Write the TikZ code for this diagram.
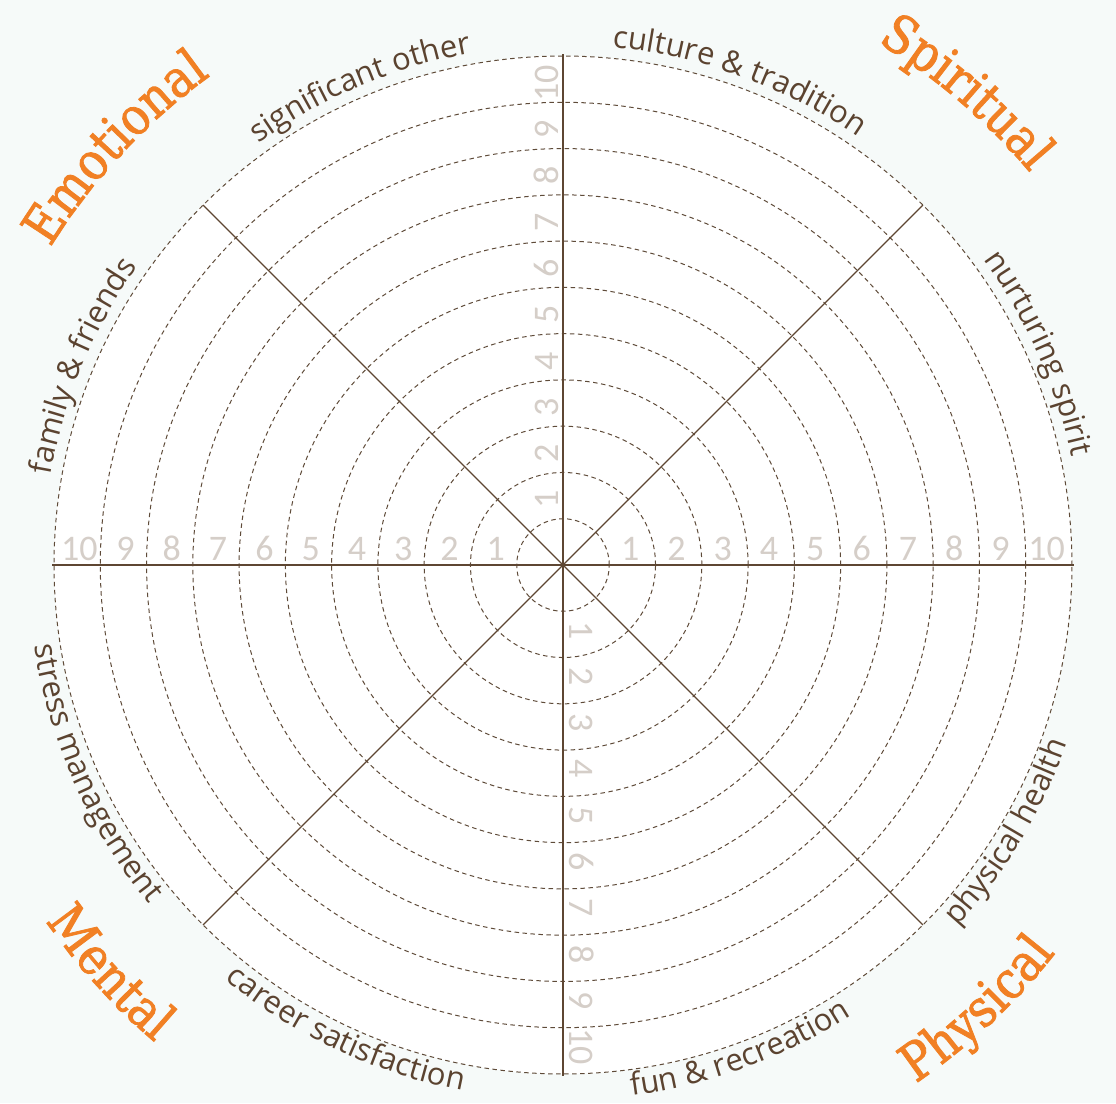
\documentclass[tikz,border=0pt]{standalone}
\usepackage{fontspec}
\setmainfont{Open Sans}
\newfontfamily\digitfont{Carlito}
\newfontfamily\headfont[FakeStretch=0.88, FakeBold=1.6]{DejaVu Serif}
\usetikzlibrary{decorations.text}

\definecolor{bark}{HTML}{5B4330}
\definecolor{spokeclr}{HTML}{5E4632}
\definecolor{ringclr}{HTML}{5F4B39}
\definecolor{numclr}{HTML}{D5CEC8}
\definecolor{tangerine}{HTML}{F18024}
\definecolor{mist}{HTML}{F6FAF9}

\newcommand{\areafont}{\fontsize{31}{31}\selectfont}
\newcommand{\groupfont}{\headfont\fontsize{52}{52}\selectfont}

\tikzset{
  ring/.style={draw=ringclr, line width=1pt, dash pattern=on 4.5pt off 3.5pt},
  axis/.style={draw=spokeclr, line width=2.2pt},
  spoke/.style={draw=spokeclr, line width=1.1pt},
  num/.style={font=\digitfont\fontsize{36}{36}\selectfont, text=numclr, inner sep=0pt, anchor=base}
}

\begin{document}
\begin{tikzpicture}[x=1pt, y=1pt]
  % page and wheel face
  \useasboundingbox (-563,-538) rectangle (553,565);
  \fill[mist] (-563,-538) rectangle (553,565);
  \coordinate (hub) at (0,0);
  \fill[white] (hub) circle (509);

  % score rings
  \foreach \k in {1,...,11}
    \draw[ring] (hub) circle ({46.27*\k});

  % spokes
  \foreach \a in {45,135,225,315} {
    \coordinate (rim-\a) at (\a:509);
    \draw[spoke] (hub) -- (rim-\a);
  }
  \foreach \a in {0,90,180,270} {
    \coordinate (rim-\a) at (\a:511);
    \draw[axis] (hub) -- (rim-\a);
  }

  % scale numbers
  \foreach \k in {1,...,10} {
    \node[num] (east-\k) at ({46.27*\k+21}, 5) {\k};
    \node[num] (west-\k) at ({-46.27*\k-21}, 5) {\k};
    \node[num, rotate=90] (north-\k) at (-5, {46.27*\k+19}) {\k};
    \node[num, rotate=-90] (south-\k) at (6, {-46.27*\k-19}) {\k};
  }

  % life areas, upper half read clockwise
  \path[decorate, decoration={text along path, text align=center, text color=bark,
      text={|\areafont|family {\&} friends}}]
    (197.5:520) arc[start angle=197.5, end angle=117.5, radius=520];
  \path[decorate, decoration={text along path, text align=center, text color=bark,
      text={|\areafont|significant other}}]
    (153:520) arc[start angle=153, end angle=73, radius=520];
  \path[decorate, decoration={text along path, text align=center, text color=bark,
      text={|\areafont|culture {\&} tradition}}]
    (110:520) arc[start angle=110, end angle=30, radius=520];
  \path[decorate, decoration={text along path, text align=center, text color=bark,
      text={|\areafont|nurturing spirit}}]
    (64:520) arc[start angle=64, end angle=-16, radius=520];

  % life areas, lower half read counterclockwise
  \path[decorate, decoration={text along path, text align=center, text color=bark,
      text={|\areafont|physical health}}]
    (-71:535) arc[start angle=-71, end angle=9, radius=535];
  \path[decorate, decoration={text along path, text align=center, text color=bark,
      text={|\areafont|fun {\&} recreation}}]
    (-110:535) arc[start angle=-110, end angle=-30, radius=535];
  \path[decorate, decoration={text along path, text align=center, text color=bark,
      text={|\areafont|career satisfaction}}]
    (-155:535) arc[start angle=-155, end angle=-75, radius=535];
  \path[decorate, decoration={text along path, text align=center, text color=bark,
      text={|\areafont|stress management}}]
    (164:535) arc[start angle=164, end angle=244, radius=535];

  % groups
  \path[decorate, decoration={text along path, text align=center, text color=tangerine,
      text={|\groupfont|Emotional}}]
    (177:603) arc[start angle=177, end angle=97, radius=603];
  \path[decorate, decoration={text along path, text align=center, text color=tangerine,
      text={|\groupfont|Spiritual}}]
    (89.5:610) arc[start angle=89.5, end angle=9.5, radius=610];
  \path[decorate, decoration={text along path, text align=center, text color=tangerine,
      text={|\groupfont|Mental}}]
    (182:628) arc[start angle=182, end angle=262, radius=628];
  \path[decorate, decoration={text along path, text align=center, text color=tangerine,
      text={|\groupfont|Physical}}]
    (-87:627) arc[start angle=-87, end angle=-7, radius=627];
\end{tikzpicture}
\end{document}
